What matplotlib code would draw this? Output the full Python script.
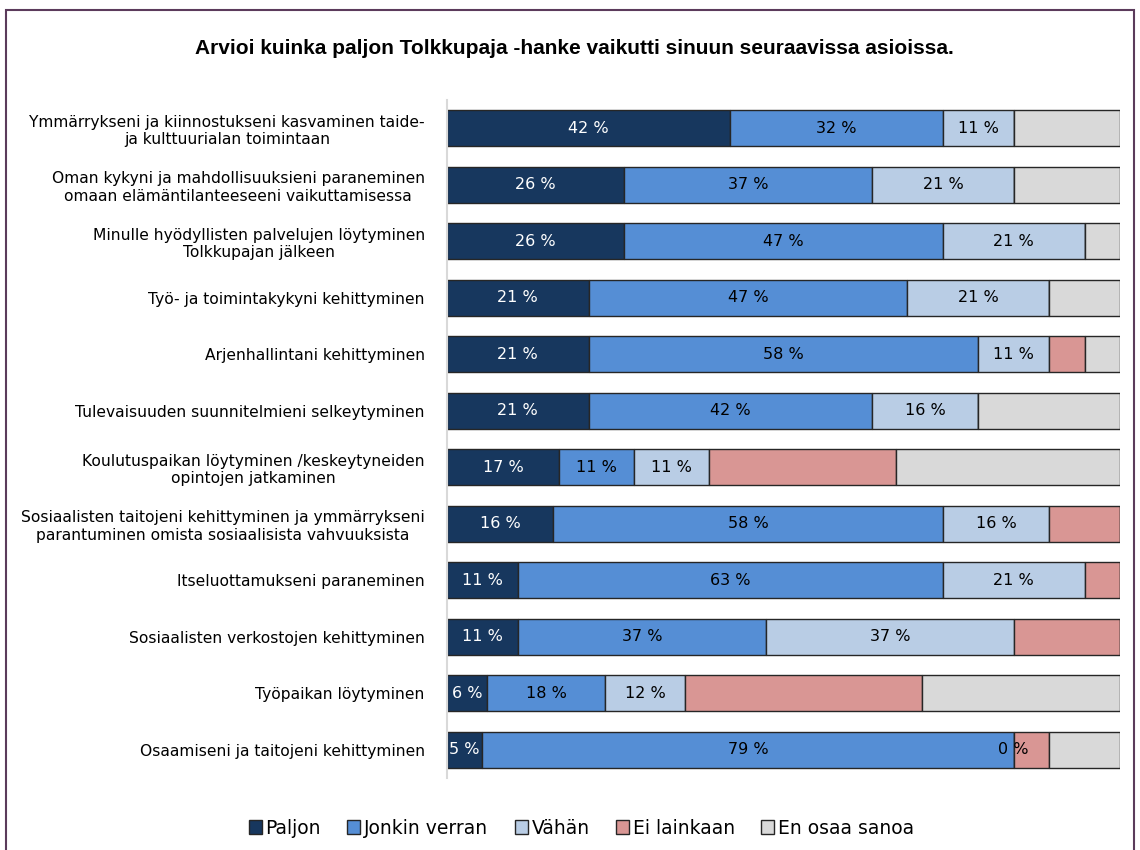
import numpy as np
import matplotlib.pyplot as plt
from matplotlib.patches import Rectangle, Patch

categories = [
    "Ymmärrykseni ja kiinnostukseni kasvaminen taide-\nja kulttuurialan toimintaan",
    "Oman kykyni ja mahdollisuuksieni paraneminen\nomaan elämäntilanteeseeni vaikuttamisessa",
    "Minulle hyödyllisten palvelujen löytyminen\nTolkkupajan jälkeen",
    "Työ- ja toimintakykyni kehittyminen",
    "Arjenhallintani kehittyminen",
    "Tulevaisuuden suunnitelmieni selkeytyminen",
    "Koulutuspaikan löytyminen /keskeytyneiden\nopintojen jatkaminen",
    "Sosiaalisten taitojeni kehittyminen ja ymmärrykseni\nparantuminen omista sosiaalisista vahvuuksista",
    "Itseluottamukseni paraneminen",
    "Sosiaalisten verkostojen kehittyminen",
    "Työpaikan löytyminen",
    "Osaamiseni ja taitojeni kehittyminen",
]

paljon = [42.11, 26.32, 26.32, 21.05, 21.05, 21.05, 16.67, 15.79, 10.53, 10.53, 5.88, 5.26]
jonkin = [31.58, 36.84, 47.37, 47.37, 57.89, 42.11, 11.11, 57.89, 63.16, 36.84, 17.65, 78.95]
vahan = [10.53, 21.05, 21.05, 21.05, 10.53, 15.79, 11.11, 15.79, 21.05, 36.84, 11.76, 0.0]
ei = [0.0, 0.0, 0.0, 0.0, 5.26, 0.0, 27.78, 10.53, 5.26, 15.79, 35.29, 5.26]
eos = [15.79, 15.79, 5.26, 10.53, 5.26, 21.05, 33.33, 0.0, 0.0, 0.0, 29.41, 10.53]

series = ["Paljon", "Jonkin verran", "Vähän", "Ei lainkaan", "En osaa sanoa"]
colors = ["#17375E", "#558ED5", "#B9CDE5", "#D99694", "#D9D9D9"]
labelled = [True, True, True, False, False]
text_cols = ["white", "black", "black", None, None]

plt.rcParams['font.family'] = ['DejaVu Sans']

fig = plt.figure(figsize=(11.4, 8.5), dpi=100)
ax = fig.add_axes([447/1140, 1-778/850, 673/1140, 678/850])

y = np.arange(len(categories))
data = [paljon, jonkin, vahan, ei, eos]
left = np.zeros(len(categories))
for vals, name, col, lab, tc in zip(data, series, colors, labelled, text_cols):
    vals = np.array(vals)
    ax.barh(y, vals, left=left, height=0.64, color=col, edgecolor="#262626",
            linewidth=1.0, label=name)
    if lab:
        for yi, (l, v) in enumerate(zip(left, vals)):
            ax.text(l + v/2, yi, f"{round(v):.0f} %", ha="center", va="center",
                    color=tc, fontsize=11.5)
    left = left + vals

ax.set_xlim(0, 100)
ax.set_ylim(len(categories) - 0.5, -0.5)
ax.set_yticks(y)
ax.set_yticklabels(categories, fontsize=11.2, ha="right", multialignment="center")
ax.tick_params(axis="y", length=0, pad=16)
ax.set_xticks([])
for s in ["top", "right", "bottom"]:
    ax.spines[s].set_visible(False)
ax.spines["left"].set_color("#D9D9D9")
ax.spines["left"].set_linewidth(1.5)

fig.text(0.504, 1-48/850, "Arvioi kuinka paljon Tolkkupaja -hanke vaikutti sinuun seuraavissa asioissa.",
         ha="center", va="center", fontsize=15, fontweight="bold",
         family="Liberation Sans")

handles = [Patch(facecolor=c, edgecolor="#262626", label=n) for c, n in zip(colors, series)]
fig.legend(handles=handles, loc="center", bbox_to_anchor=(0.51, 1-828/850), ncol=5,
           frameon=False, fontsize=13.5, handlelength=0.7, handleheight=0.7,
           handletextpad=0.2, columnspacing=1.4)

fig.patches.append(Rectangle((6/1140, -0.01), 1-12/1140, 1.01-10/850,
                             transform=fig.transFigure, fill=False,
                             edgecolor="#5B3B5B", linewidth=1.5))

fig.savefig("out.png", dpi=100)
